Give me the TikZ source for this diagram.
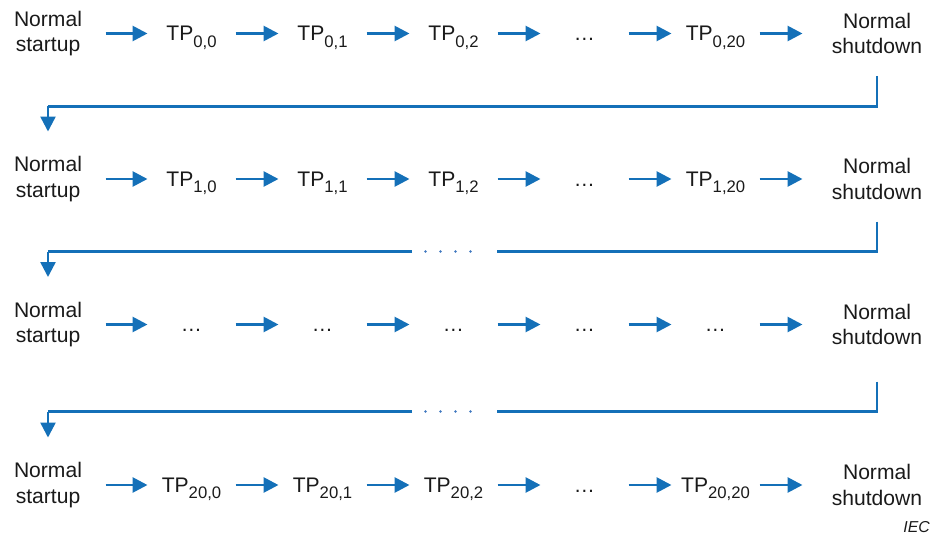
\documentclass[tikz,border=0pt]{standalone}
\usepackage{fontspec}
\setmainfont{Liberation Sans}
\usetikzlibrary{arrows.meta, positioning}
\definecolor{flow-blue}{HTML}{1470B8}
\definecolor{dot-blue}{HTML}{3F78C0}
\definecolor{ink}{HTML}{1A1A1A}
\newcommand{\tpname}[1]{TP\raisebox{-0.3em}{\fontsize{9.5}{10}\selectfont #1}}
\tikzset{
  startcell/.style={
    inner sep=0pt, outer sep=0pt, minimum width=2.3cm, align=center,
    text=ink, font=\fontsize{12}{14.4}\selectfont
  },
  stopcell/.style={
    inner sep=0pt, outer sep=0pt, minimum width=2.98cm, align=center,
    text=ink, font=\fontsize{12}{14.4}\selectfont
  },
  tpcell/.style={
    inner sep=0pt, outer sep=0pt, minimum width=1.76cm,
    text height=8.4pt, text depth=0pt, text=ink, font=\fontsize{12}{14.4}\selectfont
  },
  flow-edge/.style={-{Triangle[length=0.3cm, width=0.3cm]}, line width=1.6pt, draw=flow-blue},
  return-edge/.style={line width=1.4pt, draw=flow-blue},
  gapdots/.style={line width=1.6pt, draw=dot-blue, line cap=round, dash pattern=on 0pt off 0.3cm},
  note/.style={font=\fontsize{9}{10}\selectfont\itshape, text=ink, anchor=base east}
}

\begin{document}
\begin{tikzpicture}
  \useasboundingbox (0,0) rectangle (18.76,10.7);

  % ---- Row 0 ---------------------------------------------------------------
  \node[startcell] (su0) at (0.96, 10.03) {Normal\\startup};
  \node[tpcell] (t0a) at (3.83, 10.03) {\tpname{0,0}};
  \node[tpcell] (t0b) at (6.45, 10.03) {\tpname{0,1}};
  \node[tpcell] (t0c) at (9.07, 10.03) {\tpname{0,2}};
  \node[tpcell] (t0d) at (11.69, 10.03) {\ldots};
  \node[tpcell] (t0e) at (14.31, 10.03) {\tpname{0,20}};
  \node[stopcell] (sd0) at (17.54, 10.03) {Normal\\shutdown};

  % ---- Row 1 ---------------------------------------------------------------
  \node[startcell] (su1) at (0.96, 7.12) {Normal\\startup};
  \node[tpcell] (t1a) at (3.83, 7.12) {\tpname{1,0}};
  \node[tpcell] (t1b) at (6.45, 7.12) {\tpname{1,1}};
  \node[tpcell] (t1c) at (9.07, 7.12) {\tpname{1,2}};
  \node[tpcell] (t1d) at (11.69, 7.12) {\ldots};
  \node[tpcell] (t1e) at (14.31, 7.12) {\tpname{1,20}};
  \node[stopcell] (sd1) at (17.54, 7.12) {Normal\\shutdown};

  % ---- Row 2 (elided) ------------------------------------------------------
  \node[startcell] (su2) at (0.96, 4.21) {Normal\\startup};
  \node[tpcell] (t2a) at (3.83, 4.21) {\ldots};
  \node[tpcell] (t2b) at (6.45, 4.21) {\ldots};
  \node[tpcell] (t2c) at (9.07, 4.21) {\ldots};
  \node[tpcell] (t2d) at (11.69, 4.21) {\ldots};
  \node[tpcell] (t2e) at (14.31, 4.21) {\ldots};
  \node[stopcell] (sd2) at (17.54, 4.21) {Normal\\shutdown};

  % ---- Row 20 --------------------------------------------------------------
  \node[startcell] (su3) at (0.96, 1.0) {Normal\\startup};
  \node[tpcell] (t3a) at (3.83, 1.0) {\tpname{20,0}};
  \node[tpcell] (t3b) at (6.45, 1.0) {\tpname{20,1}};
  \node[tpcell] (t3c) at (9.07, 1.0) {\tpname{20,2}};
  \node[tpcell] (t3d) at (11.69, 1.0) {\ldots};
  \node[tpcell] (t3e) at (14.31, 1.0) {\tpname{20,20}};
  \node[stopcell] (sd3) at (17.54, 1.0) {Normal\\shutdown};

  % ---- flow arrows along each row ------------------------------------------
  \foreach \r in {0,1,2,3} {
    \draw[flow-edge] (su\r.east) -- (t\r a.west);
    \draw[flow-edge] (t\r a.east) -- (t\r b.west);
    \draw[flow-edge] (t\r b.east) -- (t\r c.west);
    \draw[flow-edge] (t\r c.east) -- (t\r d.west);
    \draw[flow-edge] (t\r d.east) -- (t\r e.west);
    \draw[flow-edge] (t\r e.east) -- (sd\r.west);
  }

  % ---- return lines --------------------------------------------------------
  \coordinate (rs0) at (17.54, 9.18);
  \coordinate (rc0) at (0.96, 8.57);
  \coordinate (rs1) at (17.54, 6.27);
  \coordinate (rc1) at (0.96, 5.67);
  \coordinate (rs2) at (17.54, 3.07);
  \coordinate (rc2) at (0.96, 2.47);

  \draw[return-edge] (rs0) |- (rc0);
  \draw[flow-edge, line width=1.4pt, shorten >=0.5cm] (rc0) -- (su1.north);

  % gaps marked with dots where rows are left out
  \coordinate (gr1) at (9.94, 5.67);
  \coordinate (gl1) at (8.24, 5.67);
  \draw[return-edge] (rs1) |- (gr1);
  \draw[gapdots] (8.51, 5.67) -- (9.45, 5.67);
  \draw[return-edge] (gl1) -- (rc1);
  \draw[flow-edge, line width=1.4pt, shorten >=0.5cm] (rc1) -- (su2.north);

  \coordinate (gr2) at (9.94, 2.47);
  \coordinate (gl2) at (8.24, 2.47);
  \draw[return-edge] (rs2) |- (gr2);
  \draw[gapdots] (8.51, 2.47) -- (9.45, 2.47);
  \draw[return-edge] (gl2) -- (rc2);
  \draw[flow-edge, line width=1.4pt, shorten >=0.5cm] (rc2) -- (su3.north);

  % ---- source mark ---------------------------------------------------------
  \node[note] (iec) at (18.72, 0.06) {IEC};

\end{tikzpicture}
\end{document}
